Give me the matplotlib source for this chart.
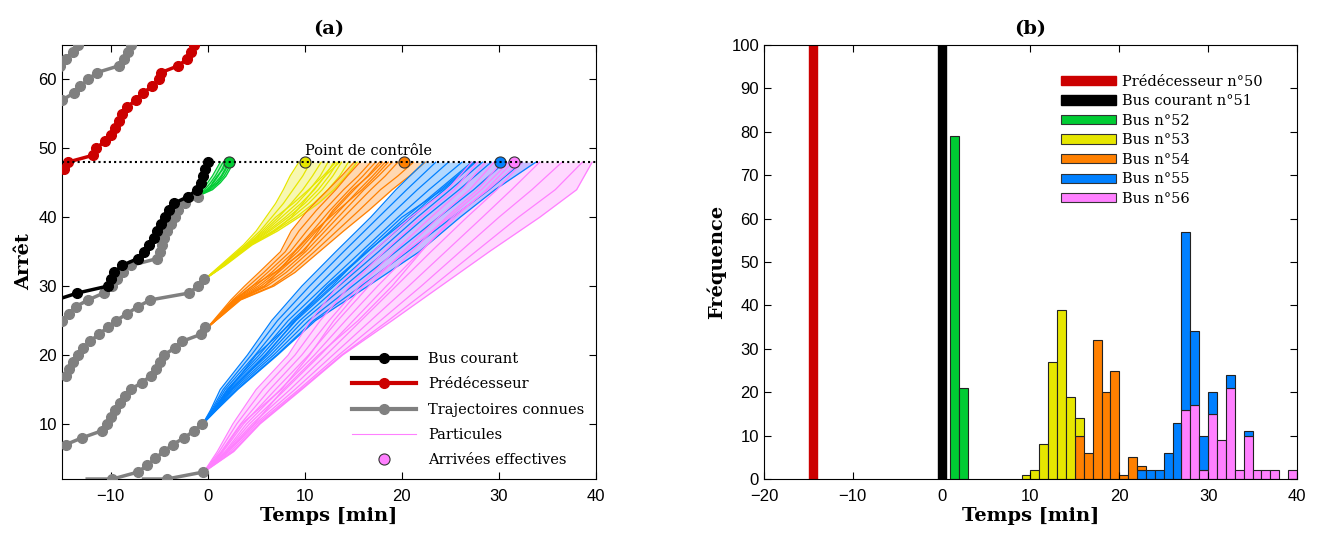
import matplotlib.pyplot as plt
from matplotlib.lines import Line2D
from matplotlib.patches import Patch
import numpy as np

plt.rcParams['font.family'] = ['Liberation Sans', 'DejaVu Sans']
SERIF = 'DejaVu Serif'

# colours
c_red = '#cc0000'
c_black = '#000000'
c_grey = '#808080'
c_green = '#00cc33'
c_yellow = '#e6e600'
c_orange = '#ff8000'
c_blue = '#0080ff'
c_pink = '#ff80ff'

# ---- panel (a): known trajectories (time [min] at each stop) ----
pred_stops = list(range(47, 66))
pred_times = [-14.8, -14.4, -11.8, -11.5, -10.6, -10.0, -9.5, -9.1, -8.8, -8.3,
              -7.4, -6.7, -5.7, -5.0, -4.8, -3.0, -2.1, -1.75, -1.4]

cur_stops = list(range(28, 49))
cur_times = [-15.6, -13.4, -10.3, -10.0, -9.6, -8.8, -7.2, -6.6, -6.0, -5.5, -5.2,
             -4.8, -4.4, -4.0, -3.5, -2.0, -1.1, -0.7, -0.5, -0.3, 0.0]

known_g_stops = [62, 63, 64, 65]
known_g_times = [-15.2, -14.6, -13.9, -13.3]
known_f_stops = [57, 58, 59, 60, 61, 62, 63, 64, 65]
known_f_times = [-15.0, -13.8, -13.1, -12.3, -11.4, -9.1, -8.6, -8.2, -7.9]
known_a_stops = list(range(25, 44))
known_a_times = [-15.0, -14.3, -13.6, -12.3, -10.7, -9.8, -9.3, -8.7, -7.9, -5.2,
                 -4.9, -4.7, -4.5, -4.2, -3.8, -3.4, -3.1, -2.3, -1.0]
known_b_stops = list(range(17, 32))
known_b_times = [-14.6, -14.3, -13.9, -13.3, -12.8, -12.1, -11.2, -10.3, -9.4,
                 -8.3, -7.2, -5.9, -1.9, -1.0, -0.4]
known_c_stops = list(range(7, 25))
known_c_times = [-14.6, -12.9, -10.9, -10.4, -10.0, -9.5, -9.0, -8.5, -7.9, -6.8,
                 -5.8, -5.3, -4.9, -4.5, -3.4, -2.6, -0.7, -0.3]
known_d_stops = [2, 2, 3, 4, 5, 6, 7, 8, 9, 10]
known_d_times = [-12.4, -9.8, -7.2, -6.2, -5.4, -4.5, -3.6, -2.4, -1.4, -0.6]
known_e_stops = [2, 2, 3]
known_e_times = [-6.6, -4.2, -0.5]

# ---- particles (time at selected stops, one row per particle) ----
green_stops = [43, 44, 45, 46, 47, 48]
green_paths = [
    [-1.1, -0.5, 0.0, 0.5, 0.9, 1.3],
    [-1.1, -0.3, 0.3, 0.8, 1.2, 1.6],
    [-1.1, -0.1, 0.6, 1.1, 1.5, 1.8],
    [-1.1, 0.1, 0.8, 1.4, 1.8, 2.0],
    [-1.1, 0.3, 1.1, 1.7, 2.1, 2.3],
    [-1.1, 0.5, 1.3, 1.9, 2.3, 2.5],
    [-1.1, 0.0, 1.0, 1.5, 1.9, 2.2],
    [-1.1, 0.2, 0.5, 1.0, 1.6, 1.9],
]

yellow_stops = [31, 33, 36, 38, 40, 42, 44, 46, 48]
yellow_paths = [
    [-0.3, 1.3, 3.7, 5.0, 6.0, 7.0, 7.8, 8.5, 9.4],
    [-0.3, 1.4, 3.9, 5.4, 6.6, 7.8, 8.8, 9.8, 10.6],
    [-0.3, 1.5, 4.0, 5.8, 7.3, 8.6, 9.8, 10.8, 11.7],
    [-0.3, 1.5, 4.1, 6.0, 7.6, 9.2, 10.5, 11.6, 12.4],
    [-0.3, 1.6, 4.2, 6.2, 8.0, 9.6, 11.0, 12.1, 13.0],
    [-0.3, 1.6, 4.3, 6.4, 8.3, 10.0, 11.4, 12.5, 13.4],
    [-0.3, 1.7, 4.4, 6.7, 8.7, 10.4, 11.8, 12.9, 13.8],
    [-0.3, 1.7, 4.5, 6.9, 9.1, 10.9, 12.4, 13.6, 14.5],
    [-0.3, 1.8, 4.6, 7.2, 9.4, 11.4, 13.0, 14.3, 15.4],
    [-0.3, 1.6, 4.2, 5.6, 7.0, 8.8, 10.4, 11.9, 13.2],
    [-0.3, 1.7, 4.4, 6.9, 8.6, 9.8, 10.9, 12.1, 13.6],
]

orange_stops = [24, 26, 28, 30, 32, 35, 38, 41, 44, 46, 48]
orange_paths = [
    [0.0, 1.2, 2.4, 3.8, 5.3, 7.5, 8.6, 10.3, 12.4, 13.8, 15.1],
    [0.0, 1.3, 2.6, 4.2, 5.8, 8.0, 9.4, 11.2, 13.2, 14.4, 15.7],
    [0.0, 1.4, 2.7, 4.6, 6.2, 8.5, 10.2, 12.0, 14.0, 15.5, 16.8],
    [0.0, 1.4, 2.8, 4.9, 6.6, 8.9, 10.8, 12.6, 14.6, 16.0, 17.3],
    [0.0, 1.5, 2.9, 5.2, 7.0, 9.3, 11.2, 13.1, 15.1, 16.5, 17.7],
    [0.0, 1.5, 3.0, 5.5, 7.3, 9.7, 11.7, 13.6, 15.6, 17.0, 18.3],
    [0.0, 1.6, 3.1, 5.8, 7.7, 10.1, 12.1, 14.1, 16.1, 17.6, 19.0],
    [0.0, 1.6, 3.2, 6.1, 8.1, 10.5, 12.6, 14.7, 16.8, 18.3, 19.6],
    [0.0, 1.7, 3.3, 6.6, 8.6, 11.0, 13.3, 15.6, 17.8, 19.6, 21.2],
    [0.0, 1.7, 3.4, 6.8, 9.0, 11.5, 14.0, 16.6, 19.0, 20.8, 22.4],
    [0.0, 1.5, 2.8, 4.6, 6.9, 9.9, 11.4, 12.9, 14.9, 16.6, 18.0],
    [0.0, 1.6, 3.1, 5.9, 7.2, 9.0, 11.0, 13.4, 15.9, 17.3, 18.6],
]

blue_stops = [10, 12, 15, 20, 25, 30, 35, 40, 44, 48]
blue_paths = [
    [-0.5, 0.3, 1.3, 4.1, 6.6, 9.7, 13.2, 16.8, 19.4, 22.3],
    [-0.5, 0.4, 1.6, 4.5, 7.2, 10.5, 14.0, 17.6, 20.5, 23.5],
    [-0.5, 0.5, 1.8, 4.9, 7.8, 11.3, 14.9, 18.6, 21.6, 24.8],
    [-0.5, 0.6, 2.0, 5.3, 8.3, 12.0, 15.8, 19.6, 22.8, 26.2],
    [-0.5, 0.6, 2.1, 5.6, 8.7, 12.5, 16.5, 20.4, 23.8, 27.2],
    [-0.5, 0.7, 2.3, 5.9, 9.1, 13.0, 17.0, 21.0, 24.4, 27.6],
    [-0.5, 0.7, 2.4, 6.2, 9.5, 13.5, 17.6, 21.6, 25.0, 28.3],
    [-0.5, 0.8, 2.6, 6.5, 9.9, 14.1, 18.3, 22.4, 25.9, 29.2],
    [-0.5, 0.8, 2.8, 6.8, 10.4, 14.9, 19.4, 23.8, 27.4, 30.6],
    [-0.5, 0.9, 3.0, 7.1, 10.9, 15.8, 20.6, 25.2, 29.0, 32.4],
    [-0.5, 0.9, 3.1, 7.2, 11.1, 16.5, 21.8, 26.0, 29.6, 33.8],
    [-0.5, 0.6, 2.2, 5.0, 8.9, 12.8, 16.2, 20.0, 24.2, 27.5],
    [-0.5, 0.7, 2.5, 6.0, 9.0, 12.3, 16.4, 20.8, 24.0, 27.4],
]

pink_stops = [3, 6, 10, 15, 20, 25, 30, 35, 40, 44, 48]
pink_paths = [
    [-0.4, 1.0, 2.6, 5.0, 8.3, 10.6, 13.4, 17.0, 20.9, 24.7, 27.2],
    [-0.4, 1.2, 3.0, 5.7, 9.0, 11.6, 14.6, 18.2, 22.0, 25.4, 27.8],
    [-0.4, 1.4, 3.4, 6.4, 9.7, 12.5, 15.6, 19.2, 23.0, 26.2, 28.6],
    [-0.4, 1.6, 3.7, 7.0, 10.4, 13.4, 16.6, 20.1, 23.8, 27.0, 29.5],
    [-0.4, 1.8, 4.0, 7.5, 11.0, 14.2, 17.5, 21.0, 24.6, 27.8, 30.3],
    [-0.4, 1.9, 4.3, 8.0, 11.6, 15.0, 18.4, 21.9, 25.5, 28.7, 31.4],
    [-0.4, 2.0, 4.6, 8.5, 12.2, 15.8, 19.4, 23.0, 26.7, 29.8, 32.4],
    [-0.4, 2.2, 4.9, 9.0, 12.9, 16.8, 20.7, 24.5, 28.3, 31.3, 34.2],
    [-0.4, 2.4, 5.1, 9.4, 13.5, 17.8, 22.0, 26.0, 30.0, 33.4, 36.5],
    [-0.4, 2.6, 5.3, 9.6, 13.8, 18.6, 23.2, 27.6, 32.0, 35.8, 38.6],
    [-0.4, 2.7, 5.4, 9.7, 13.9, 19.0, 24.0, 29.0, 34.2, 38.0, 39.6],
    [-0.4, 1.5, 3.5, 7.6, 10.5, 13.0, 16.0, 20.4, 24.9, 28.2, 31.0],
    [-0.4, 2.1, 4.8, 7.8, 11.4, 15.5, 19.0, 22.0, 25.2, 28.9, 32.2],
]

control_stop = 48
arrival_times = [2.2, 10.0, 20.2, 30.1, 31.6]
arrival_colors = [c_green, c_yellow, c_orange, c_blue, c_pink]

# ---- panel (b): arrival-time histograms (1-min bins, stacked) ----
pred_arrival = -14.5
cur_arrival = 0.0
h52_bins = [1, 2]
h52 = [79, 21]
h53_bins = list(range(9, 16))
h53 = [1, 2, 8, 27, 39, 19, 4]
h54_bins = list(range(15, 23))
h54 = [10, 6, 32, 20, 25, 1, 5, 1]
h55_bins = list(range(22, 35))
h55 = [2, 2, 2, 6, 13, 41, 17, 8, 5, 0, 3, 0, 1]
h56_bins = list(range(27, 40))
h56 = [16, 17, 2, 15, 9, 21, 2, 10, 2, 2, 2, 0, 2]

fig = plt.figure(figsize=(13.21, 5.36), dpi=100)
ax1 = fig.add_axes([0.0469, 0.1063, 0.4043, 0.8097])
ax2 = fig.add_axes([0.5783, 0.1063, 0.4035, 0.8097])

# particles: light cloud between the outermost particles, then each particle
for stops, paths, col in [(green_stops, green_paths, c_green),
                          (yellow_stops, yellow_paths, c_yellow),
                          (orange_stops, orange_paths, c_orange),
                          (blue_stops, blue_paths, c_blue),
                          (pink_stops, pink_paths, c_pink)]:
    arr = np.array(paths)
    ax1.fill_betweenx(stops, arr.min(axis=0), arr.max(axis=0), color=col, alpha=0.3, lw=0, zorder=1)
    for p in paths:
        ax1.plot(p, stops, color=col, lw=0.9, zorder=2)

# known trajectories
lw_traj = 2.5
ms_traj = 7
for t, s in [(known_g_times, known_g_stops), (known_f_times, known_f_stops),
             (known_a_times, known_a_stops), (known_b_times, known_b_stops),
             (known_c_times, known_c_stops)]:
    ax1.plot(t, s, '-o', color=c_grey, lw=lw_traj, ms=ms_traj, zorder=3)
for t, s in [(known_d_times, known_d_stops), (known_e_times, known_e_stops)]:
    ax1.plot(t, s, '-o', color=c_grey, lw=lw_traj, ms=ms_traj, markevery=slice(1, None), zorder=3)
ax1.plot(cur_times, cur_stops, '-o', color=c_black, lw=lw_traj, ms=ms_traj, zorder=4)
ax1.plot(pred_times, pred_stops, '-o', color=c_red, lw=lw_traj, ms=ms_traj, zorder=4)

for t, col in zip(arrival_times, arrival_colors):
    ax1.plot([t], [control_stop], 'o', color=col, mec='#333333', mew=0.8, ms=8, zorder=5)
ax1.plot([-15, 40], [control_stop, control_stop], color='black', ls=(0, (1, 1.5)), lw=1.5, zorder=6)
ax1.text(10.0, 48.6, 'Point de contrôle', fontsize=10.5, family=SERIF, ha='left', va='bottom')

ax1.set_xlim(-15, 40)
ax1.set_ylim(2, 65)
ax1.set_xticks([-10, 0, 10, 20, 30, 40])
ax1.set_yticks([10, 20, 30, 40, 50, 60])
ax1.set_xlabel('Temps [min]', fontsize=14, family=SERIF, fontweight='bold', labelpad=2)
ax1.set_ylabel('Arrêt', fontsize=14, family=SERIF, fontweight='bold', labelpad=4)
ax1.set_title('(a)', fontsize=14, family=SERIF, fontweight='bold', pad=8)

leg_handles = [
    Line2D([], [], color=c_black, lw=3, marker='o', ms=7),
    Line2D([], [], color=c_red, lw=3, marker='o', ms=7),
    Line2D([], [], color=c_grey, lw=3, marker='o', ms=7),
    Line2D([], [], color=c_pink, lw=0.8),
    Line2D([], [], color=c_pink, lw=0, marker='o', ms=8, mec='#333333', mew=0.8),
]
leg_labels = ['Bus courant', 'Prédécesseur', 'Trajectoires connues', 'Particules', 'Arrivées effectives']
ax1.legend(leg_handles, leg_labels, loc='lower right', bbox_to_anchor=(1.0, 0.0), frameon=False,
           prop={'family': SERIF, 'size': 10.5}, handlelength=4.4, labelspacing=0.78, borderaxespad=0.4)

# histogram
ax2.bar(pred_arrival, 100, width=0.9, color=c_red, edgecolor=c_red)
ax2.bar(cur_arrival, 100, width=0.9, color=c_black, edgecolor=c_black)

edges = np.arange(0, 41)
bottom = np.zeros(len(edges))
stack = [(h56_bins, h56, c_pink), (h55_bins, h55, c_blue), (h54_bins, h54, c_orange),
         (h53_bins, h53, c_yellow), (h52_bins, h52, c_green)]
for bins, counts, col in stack:
    full = np.zeros(len(edges))
    for b, c in zip(bins, counts):
        full[b] = c
    keep = full > 0
    ax2.bar(edges[keep], full[keep], width=1, align='edge', bottom=bottom[keep],
            color=col, edgecolor='#222222', linewidth=0.8)
    bottom += full

ax2.set_xlim(-20, 40)
ax2.set_ylim(0, 100)
ax2.set_xticks(range(-20, 41, 10))
ax2.set_yticks(range(0, 101, 10))
ax2.set_xlabel('Temps [min]', fontsize=14, family=SERIF, fontweight='bold', labelpad=2)
ax2.set_ylabel('Fréquence', fontsize=14, family=SERIF, fontweight='bold', labelpad=4)
ax2.set_title('(b)', fontsize=14, family=SERIF, fontweight='bold', pad=8)

h_leg = [Patch(color=c_red), Patch(color=c_black)]
for col in [c_green, c_yellow, c_orange, c_blue, c_pink]:
    h_leg.append(Patch(facecolor=col, edgecolor='#333333', linewidth=0.8))
l_leg = ['Prédécesseur n°50', 'Bus courant n°51', 'Bus n°52', 'Bus n°53', 'Bus n°54', 'Bus n°55', 'Bus n°56']
ax2.legend(h_leg, l_leg, loc='upper right', bbox_to_anchor=(0.96, 0.962), frameon=False,
           prop={'family': SERIF, 'size': 10.5}, handlelength=3.8, handleheight=0.6,
           labelspacing=0.38, handletextpad=0.4)

for ax in (ax1, ax2):
    ax.tick_params(direction='in', top=True, right=True, labelsize=12, length=5, width=0.8)
    ax.tick_params(axis='x', pad=7)
    for sp in ax.spines.values():
        sp.set_linewidth(0.8)

fig.savefig('out.png', dpi=100)
